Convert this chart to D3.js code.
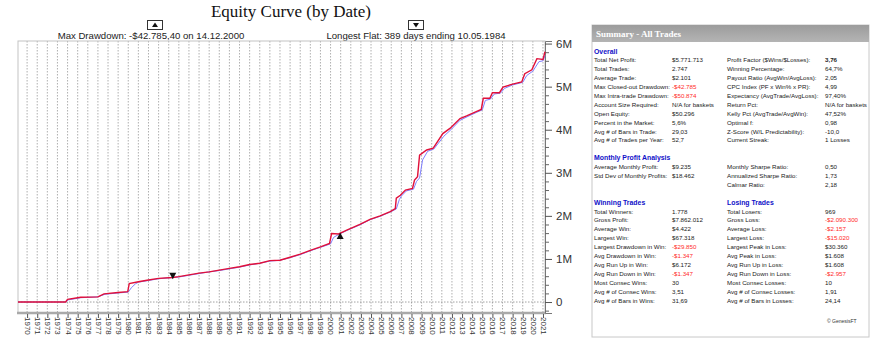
<!DOCTYPE html>
<html>
<head>
<meta charset="utf-8">
<script src="https://cdn.jsdelivr.net/npm/d3@7"></script>
<style>
    html, body { margin: 0; padding: 0; background: #fff; }
    svg { display: block; }
</style>
</head>
<body>
<svg id="canvas" width="871" height="350"></svg>
<script>
// Closed equity (red), [year, equity in millions].
var closedEquity = [
    [1969.1, 0], [1973.8, 0], [1974.0, 0.06], [1975.3, 0.11], [1977.0, 0.12],
    [1977.6, 0.19], [1979.0, 0.22], [1979.95, 0.24], [1980.1, 0.43], [1981.0, 0.47],
    [1982.0, 0.51], [1983.0, 0.55], [1984.4, 0.57], [1985.0, 0.59], [1986.0, 0.63],
    [1987.0, 0.67], [1988.0, 0.70], [1989.0, 0.74], [1990.0, 0.78], [1991.0, 0.82],
    [1992.0, 0.87], [1993.0, 0.90], [1994.0, 0.96], [1995.0, 0.97], [1996.0, 1.04],
    [1997.0, 1.11], [1998.0, 1.20], [1999.0, 1.28], [1999.9, 1.36], [2000.1, 1.59],
    [2000.8, 1.58], [2001.6, 1.67], [2002.9, 1.80], [2003.9, 1.92], [2004.9, 2.00],
    [2005.9, 2.10], [2006.4, 2.17], [2006.5, 2.41], [2006.9, 2.48], [2007.4, 2.60],
    [2008.1, 2.64], [2008.3, 2.83], [2008.6, 2.91], [2008.8, 3.41], [2009.5, 3.53],
    [2010.15, 3.57], [2011.1, 3.91], [2011.8, 4.03], [2012.8, 4.26], [2013.45, 4.32],
    [2014.4, 4.42], [2014.9, 4.47], [2015.1, 4.73], [2015.75, 4.73], [2016.0, 4.86],
    [2016.7, 4.86], [2017.05, 4.99], [2018.0, 5.06], [2018.9, 5.11], [2019.2, 5.30],
    [2019.9, 5.39], [2020.4, 5.65], [2021.0, 5.63], [2021.2, 5.81]
];

// Open equity (blue), lags the closed equity at the jumps.
var openEquity = [
    [1969.1, 0], [1973.8, 0], [1974.1, 0.05], [1975.3, 0.10], [1977.0, 0.12],
    [1977.7, 0.18], [1979.0, 0.21], [1980.0, 0.23], [1980.3, 0.33], [1980.7, 0.42],
    [1981.0, 0.46], [1982.0, 0.50], [1983.0, 0.54], [1984.4, 0.57], [1985.0, 0.58],
    [1986.0, 0.62], [1987.0, 0.66], [1988.0, 0.70], [1989.0, 0.73], [1990.0, 0.77],
    [1991.0, 0.81], [1992.0, 0.86], [1993.0, 0.90], [1994.0, 0.95], [1995.0, 0.97],
    [1996.0, 1.03], [1997.0, 1.10], [1998.0, 1.19], [1999.0, 1.27], [2000.0, 1.35],
    [2000.3, 1.50], [2000.8, 1.57], [2001.6, 1.66], [2002.9, 1.79], [2003.9, 1.91],
    [2004.9, 1.99], [2005.9, 2.09], [2006.5, 2.16], [2006.8, 2.38], [2007.0, 2.46],
    [2007.5, 2.58], [2008.2, 2.62], [2008.5, 2.80], [2008.8, 2.88], [2009.1, 3.30],
    [2009.6, 3.50], [2010.2, 3.55], [2011.2, 3.85], [2011.9, 4.00], [2012.8, 4.22],
    [2013.5, 4.30], [2014.4, 4.40], [2015.0, 4.46], [2015.3, 4.68], [2015.8, 4.71],
    [2016.2, 4.83], [2016.8, 4.85], [2017.2, 4.96], [2018.0, 5.04], [2019.0, 5.10],
    [2019.4, 5.26], [2020.0, 5.36], [2020.6, 5.58], [2021.0, 5.60], [2021.2, 5.72]
];

// Axis ticks.
var yearTicks = d3.range(1970, 2022);
var equityTicks = [0, 1, 2, 3, 4, 5, 6];
var equityLabels = ["0", "1M", "2M", "3M", "4M", "5M", "6M"];

// Marker annotations: [year, equity, direction].
var markers = [[2000.95, 1.53, "up"], [1984.4, 0.61, "down"]];
var maxDrawdownText = "Max Drawdown: -$42.785,40 on 14.12.2000";
var longestFlatText = "Longest Flat: 389 days ending 10.05.1984";

// Summary table, left and right columns: [label, value, style].
var leftRows = [
    ["Overall", "", "head"],
    ["Total Net Profit:", "$5.771.713"],
    ["Total Trades:", "2.747"],
    ["Average Trade:", "$2.101"],
    ["Max Closed-out Drawdown:", "-$42.785", "neg"],
    ["Max Intra-trade Drawdown:", "-$50.874", "neg"],
    ["Account Size Required:", "N/A for baskets"],
    ["Open Equity:", "$50.296"],
    ["Percent in the Market:", "5,6%"],
    ["Avg # of Bars in Trade:", "29,03"],
    ["Avg # of Trades per Year:", "52,7"],
    null,
    ["Monthly Profit Analysis", "", "head"],
    ["Average Monthly Profit:", "$9.235"],
    ["Std Dev of Monthly Profits:", "$18.462"],
    null,
    null,
    ["Winning Trades", "", "head"],
    ["Total Winners:", "1.778"],
    ["Gross Profit:", "$7.862.012"],
    ["Average Win:", "$4.422"],
    ["Largest Win:", "$67.318"],
    ["Largest Drawdown in Win:", "-$29.850", "neg"],
    ["Avg Drawdown in Win:", "-$1.347", "neg"],
    ["Avg Run Up in Win:", "$6.172"],
    ["Avg Run Down in Win:", "-$1.347", "neg"],
    ["Most Consec Wins:", "30"],
    ["Avg # of Consec Wins:", "3,51"],
    ["Avg # of Bars in Wins:", "31,69"]
];
var rightRows = [
    null,
    ["Profit Factor ($Wins/$Losses):", "3,76", "bold"],
    ["Winning Percentage:", "64,7%"],
    ["Payout Ratio (AvgWin/AvgLoss):", "2,05"],
    ["CPC Index (PF x Win% x PR):", "4,99"],
    ["Expectancy (AvgTrade/AvgLoss):", "97,40%"],
    ["Return Pct:", "N/A for baskets"],
    ["Kelly Pct (AvgTrade/AvgWin):", "47,52%"],
    ["Optimal f:", "0,98"],
    ["Z-Score (W/L Predictability):", "-10,0"],
    ["Current Streak:", "1 Losses"],
    null,
    null,
    ["Monthly Sharpe Ratio:", "0,50"],
    ["Annualized Sharpe Ratio:", "1,73"],
    ["Calmar Ratio:", "2,18"],
    null,
    ["Losing Trades", "", "head"],
    ["Total Losers:", "969"],
    ["Gross Loss:", "-$2.090.300", "neg"],
    ["Average Loss:", "-$2.157", "neg"],
    ["Largest Loss:", "-$15.020", "neg"],
    ["Largest Peak in Loss:", "$30.360"],
    ["Avg Peak in Loss:", "$1.608"],
    ["Avg Run Up in Loss:", "$1.608"],
    ["Avg Run Down in Loss:", "-$2.957", "neg"],
    ["Most Consec Losses:", "10"],
    ["Avg # of Consec Losses:", "1,91"],
    ["Avg # of Bars in Losses:", "24,14"]
];

(function () {

    var svg = d3.select("#canvas");
    var sans = "'Liberation Sans', Arial, sans-serif";
    var serif = "'Liberation Serif', 'Times New Roman', serif";

    // Plot frame.
    var plot = { left: 18, right: 545, top: 41, bottom: 313 };

    var xScale = d3.scaleLinear()
        .domain([1969.1, 2021.2])
        .range([plot.left, plot.right]);
    var yScale = d3.scaleLinear()
        .domain([-0.255, 6.06])
        .range([plot.bottom, plot.top]);

    svg.append("rect")
        .attr("width", 871).attr("height", 350)
        .attr("fill", "#fff");

    // Title.
    svg.append("text")
        .attr("x", 291).attr("y", 17)
        .attr("text-anchor", "middle")
        .attr("font-family", serif)
        .attr("font-size", 17)
        .attr("fill", "#111")
        .text("Equity Curve (by Date)");

    // Annotation labels with small marker boxes above.
    function annotation(cx, text, boxX, dir) {
        svg.append("text")
            .attr("x", cx).attr("y", 39)
            .attr("text-anchor", "middle")
            .attr("font-family", sans)
            .attr("font-size", 9.6)
            .attr("fill", "#222")
            .text(text);
        svg.append("rect")
            .attr("x", boxX - 7.5).attr("y", 20.5)
            .attr("width", 15).attr("height", 9)
            .attr("fill", "#fff")
            .attr("stroke", "#333")
            .attr("stroke-width", 1);
        svg.append("path")
            .attr("transform", "translate(" + boxX + ",25)")
            .attr("d", dir === "up" ? "M-3,2L3,2L0,-2.5Z" : "M-3,-2L3,-2L0,2.5Z")
            .attr("fill", "#111");
    }
    annotation(151, maxDrawdownText, 155, "up");
    annotation(416, longestFlatText, 416, "down");

    // Vertical dotted gridlines, one per year.
    svg.append("g")
        .selectAll("line")
        .data(yearTicks)
        .join("line")
        .attr("x1", d => xScale(d)).attr("x2", d => xScale(d))
        .attr("y1", plot.top).attr("y2", plot.bottom)
        .attr("stroke", "#9a9a9a")
        .attr("stroke-width", 0.8)
        .attr("stroke-dasharray", "1.5,1.5");

    // Dotted zero line.
    svg.append("line")
        .attr("x1", plot.left).attr("x2", plot.right)
        .attr("y1", yScale(0)).attr("y2", yScale(0))
        .attr("stroke", "#8a8a8a")
        .attr("stroke-width", 0.8)
        .attr("stroke-dasharray", "1.5,1.5");

    // Frame.
    svg.append("rect")
        .attr("x", plot.left).attr("y", plot.top)
        .attr("width", plot.right - plot.left)
        .attr("height", plot.bottom - plot.top)
        .attr("fill", "none")
        .attr("stroke", "#c4c4c4")
        .attr("stroke-width", 1);
    svg.append("line")
        .attr("x1", plot.left - 1).attr("x2", plot.right + 1)
        .attr("y1", plot.bottom).attr("y2", plot.bottom)
        .attr("stroke", "#a9a9a9")
        .attr("stroke-width", 2.5);

    // Right-hand equity axis with minor ticks.
    var yAxis = d3.axisRight(yScale)
        .tickValues(equityTicks)
        .tickSize(7)
        .tickPadding(4)
        .tickFormat((d, i) => equityLabels[i]);
    var yAxisG = svg.append("g")
        .attr("transform", "translate(" + plot.right + ",0)")
        .call(yAxis);
    yAxisG.select(".domain").attr("stroke", "#777");
    yAxisG.selectAll(".tick line").attr("stroke", "#555");
    yAxisG.selectAll(".tick text")
        .attr("font-family", sans)
        .attr("font-size", 11.5)
        .attr("fill", "#333");
    var yMinor = d3.axisRight(yScale)
        .tickValues(d3.range(-0.2, 6.01, 0.2).filter(v => Math.abs(v - Math.round(v)) > 0.01))
        .tickSize(4)
        .tickFormat("");
    svg.append("g")
        .attr("transform", "translate(" + plot.right + ",0)")
        .call(yMinor)
        .call(g => g.select(".domain").remove())
        .selectAll(".tick line").attr("stroke", "#666");

    // Year axis with vertical labels.
    var xAxis = d3.axisBottom(xScale)
        .tickValues(yearTicks)
        .tickSize(4)
        .tickFormat(d3.format("d"));
    var xAxisG = svg.append("g")
        .attr("transform", "translate(0," + (plot.bottom + 1) + ")")
        .call(xAxis);
    xAxisG.select(".domain").remove();
    xAxisG.selectAll(".tick line").attr("stroke", "#555");
    xAxisG.selectAll(".tick text")
        .attr("font-family", sans)
        .attr("font-size", 8)
        .attr("fill", "#333")
        .attr("text-anchor", "start")
        .attr("dy", "0.32em")
        .attr("transform", "rotate(90) translate(3,0)")
        .attr("x", 0).attr("y", 0);

    // Equity lines.
    var line = d3.line()
        .x(d => xScale(d[0]))
        .y(d => yScale(d[1]));
    svg.append("path")
        .datum(openEquity)
        .attr("fill", "none")
        .attr("stroke", "#8080ff")
        .attr("stroke-width", 1)
        .attr("d", line);
    svg.append("path")
        .datum(closedEquity)
        .attr("fill", "none")
        .attr("stroke", "#e0103a")
        .attr("stroke-width", 1.4)
        .attr("d", line);

    // Markers on the curve.
    svg.append("g")
        .selectAll("path")
        .data(markers)
        .join("path")
        .attr("transform", d => "translate(" + xScale(d[0]) + "," + yScale(d[1]) + ")")
        .attr("d", d => d[2] === "up" ? "M-3.5,3L3.5,3L0,-3.5Z" : "M-3.5,-3L3.5,-3L0,3.5Z")
        .attr("fill", "#111");

    // Summary panel.
    var panel = { x: 592, y: 25, w: 277, h: 312 };
    svg.append("rect")
        .attr("x", panel.x).attr("y", panel.y)
        .attr("width", panel.w).attr("height", panel.h)
        .attr("fill", "#fff")
        .attr("stroke", "#c8c8c8");
    var grad = svg.append("defs").append("linearGradient")
        .attr("id", "hdr").attr("x1", 0).attr("y1", 0).attr("x2", 0).attr("y2", 1);
    grad.append("stop").attr("offset", 0).attr("stop-color", "#9c9c9c");
    grad.append("stop").attr("offset", 1).attr("stop-color", "#b4b4b4");
    svg.append("rect")
        .attr("x", panel.x).attr("y", panel.y)
        .attr("width", panel.w).attr("height", 17)
        .attr("fill", "url(#hdr)");
    svg.append("text")
        .attr("x", 596).attr("y", 37)
        .attr("font-family", serif)
        .attr("font-weight", "bold")
        .attr("font-size", 9)
        .attr("fill", "#fff")
        .text("Summary - All Trades");

    var rowY = d3.scaleLinear().domain([0, 28]).range([53.5, 302.5]);

    function column(rows, labelX, valueX) {
        var g = svg.append("g")
            .attr("font-family", sans)
            .attr("font-size", 6.2);
        rows.forEach(function (r, i) {
            if (!r) return;
            var y = rowY(i);
            if (r[2] === "head") {
                g.append("text")
                    .attr("x", labelX).attr("y", y)
                    .attr("font-weight", "bold")
                    .attr("font-size", 6.9)
                    .attr("fill", "#1010c8")
                    .text(r[0]);
                return;
            }
            g.append("text")
                .attr("x", labelX).attr("y", y)
                .attr("fill", "#222")
                .text(r[0]);
            g.append("text")
                .attr("x", valueX).attr("y", y)
                .attr("fill", r[2] === "neg" ? "#ff2a2a" : "#222")
                .attr("font-weight", r[2] === "bold" ? "bold" : null)
                .text(r[1]);
        });
    }
    column(leftRows, 594, 672);
    column(rightRows, 727, 825);

    svg.append("text")
        .attr("x", 827).attr("y", 323)
        .attr("font-family", sans)
        .attr("font-size", 5)
        .attr("fill", "#333")
        .text("\u00a9 GenesisFT");

})();
</script>
</body>
</html>
